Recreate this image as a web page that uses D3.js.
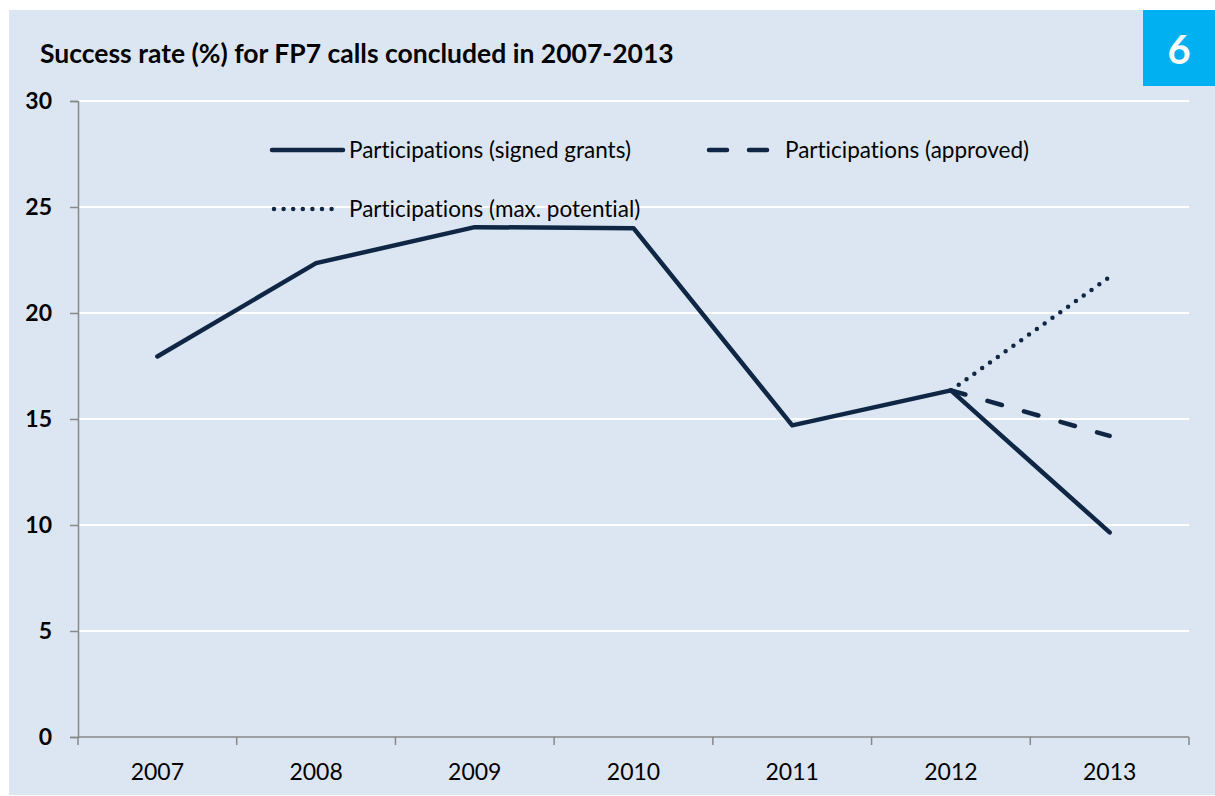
<!DOCTYPE html>
<html lang="en">
<head>
<meta charset="utf-8">
<title>Success rate FP7</title>
<style>
  body {margin: 0; background: #fff;}
  svg  {display: block; font-family: Lato, "Open Sans", sans-serif; font-variant-ligatures: none;}
</style>
</head>
<body>
<svg id="chart" width="1215" height="796"></svg>
<script src="https://d3js.org/d3.v7.min.js"></script>
<script>
const years = ["2007", "2008", "2009", "2010", "2011", "2012", "2013"];
const signed = [17.95, 22.35, 24.05, 24.0, 14.7, 16.35, 9.65];
const approved = [null, null, null, null, null, 16.35, 14.2];
const maxPotential = [null, null, null, null, null, 16.35, 21.7];
const yTicks = [0, 5, 10, 15, 20, 25, 30];

(function () {
const navy = "#0f2744";
const svg = d3.select("#chart");

// panel background
svg.append("rect").attr("x", 9).attr("y", 10).attr("width", 1206).attr("height", 785)
   .attr("fill", "#dce6f2");
// badge
svg.append("rect").attr("x", 1143).attr("y", 10).attr("width", 72).attr("height", 76)
   .attr("fill", "#00b0f0");
svg.append("text").attr("x", 1179).attr("y", 64).attr("text-anchor", "middle")
   .attr("fill", "#fff").attr("font-size", 40).attr("font-weight", "bold").text("6");

svg.append("text").attr("x", 40).attr("y", 63)
   .attr("font-size", 26.5).attr("font-weight", "bold").attr("fill", "#000")
   .text("Success rate (%) for FP7 calls concluded in 2007-2013");

const mLeft = 78, mRight = 1189, mTop = 101, mBottom = 737;
const x = d3.scaleBand().domain(years).range([mLeft, mRight]);
const y = d3.scaleLinear().domain([0, 30]).range([mBottom, mTop]);

// gridlines
svg.append("g").selectAll("line").data(yTicks.filter(d => d > 0)).join("line")
   .attr("x1", mLeft).attr("x2", mRight)
   .attr("y1", d => y(d)).attr("y2", d => y(d))
   .attr("stroke", "#fff").attr("stroke-width", 2);

// y axis
const yAxis = svg.append("g").attr("transform", `translate(${mLeft},0)`)
   .call(d3.axisLeft(y).tickValues(yTicks).tickSize(8).tickPadding(18));
yAxis.select(".domain").attr("stroke", "#888").attr("stroke-width", 1.5);
yAxis.selectAll(".tick line").attr("stroke", "#888").attr("stroke-width", 1.5);
yAxis.selectAll("text").attr("font-size", 23).attr("font-weight", "bold")
   .attr("fill", "#000").attr("font-family", "Lato, sans-serif");

// x axis: ticks at band boundaries
const xAxis = svg.append("g").attr("transform", `translate(0,${mBottom})`);
xAxis.append("line").attr("x1", mLeft).attr("x2", mRight)
   .attr("stroke", "#888").attr("stroke-width", 1.5);
const bounds = years.map(d => x(d)).concat([mRight]);
xAxis.selectAll(".tk").data(bounds).join("line").attr("class", "tk")
   .attr("x1", d => d).attr("x2", d => d).attr("y1", 0).attr("y2", 8)
   .attr("stroke", "#888").attr("stroke-width", 1.5);
xAxis.selectAll("text").data(years).join("text")
   .attr("x", d => x(d) + x.bandwidth() / 2).attr("y", 43)
   .attr("text-anchor", "middle").attr("font-size", 23).attr("fill", "#000")
   .text(d => d);

const line = d3.line()
   .defined(d => d.v != null)
   .x(d => x(d.k) + x.bandwidth() / 2)
   .y(d => y(d.v));
const toPts = arr => years.map((k, i) => ({k, v: arr[i]}));

function drawSeries(arr, dash) {
  svg.append("path").datum(toPts(arr)).attr("d", line)
     .attr("fill", "none").attr("stroke", navy).attr("stroke-width", 4.5)
     .attr("stroke-linecap", "round").attr("stroke-linejoin", "round")
     .attr("stroke-dasharray", dash);
}
drawSeries(maxPotential, "0,9.6");
drawSeries(approved, "15,23");
drawSeries(signed, null);

// legend
const legend = [
  {label: "Participations (signed grants)", x: 272, y: 150, dash: null, len: 71},
  {label: "Participations (approved)", x: 709, y: 150, dash: "18,22", len: 60},
  {label: "Participations (max. potential)", x: 274, y: 209, dash: "0,9.6", len: 66}
];
const lg = svg.append("g").selectAll("g").data(legend).join("g");
lg.append("line")
   .attr("x1", d => d.x).attr("x2", d => d.x + d.len)
   .attr("y1", d => d.y).attr("y2", d => d.y)
   .attr("stroke", navy).attr("stroke-width", 4.5).attr("stroke-linecap", "round")
   .attr("stroke-dasharray", d => d.dash);
lg.append("text")
   .attr("x", (d, i) => i === 1 ? 785 : 349).attr("y", d => d.y + 8)
   .attr("font-size", 22.5).attr("fill", "#000")
   .text(d => d.label);
})();
</script>
</body>
</html>
